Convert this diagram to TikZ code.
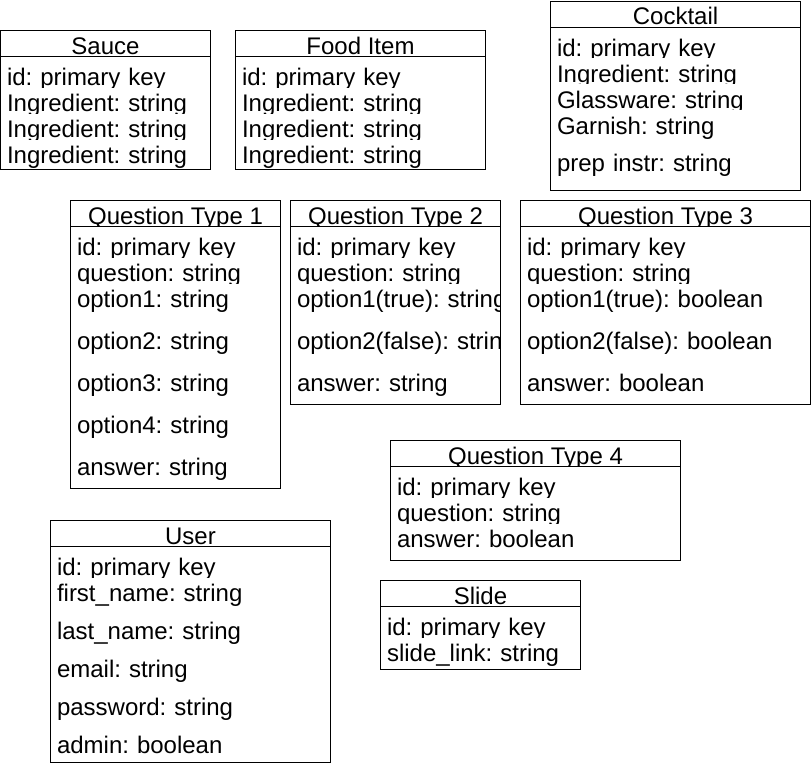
\documentclass[tikz,border=0pt]{standalone}
\usepackage{fontspec}
\setmainfont{Liberation Sans}
\usetikzlibrary{positioning}

\newcommand{\tablefont}{\fontsize{24pt}{26pt}\selectfont\frenchspacing}

\tikzset{
  tablehead/.style={rectangle, anchor=north west, draw=black, fill=white, line width=1pt, outer sep=0pt, inner sep=0pt, minimum height=26pt, text height=23.5pt, text depth=2.5pt, font=\tablefont},
  tablebody/.style={rectangle, anchor=north west, draw=black, fill=white, line width=1pt, outer sep=0pt, inner sep=0pt},
  field/.style={rectangle, anchor=north west, fill=white, outer sep=0pt, inner xsep=6pt, inner ysep=0pt, text height=24pt, text depth=0pt, text width=#1, align=left, font=\tablefont},
}

\begin{document}
\begin{tikzpicture}[x=1pt,y=1pt]
\useasboundingbox (0,0) rectangle (811,-766);

% Sauce
\node[tablehead, minimum width=210pt] (sauce) at (0.5,-30.5) {Sauce};
\node[tablebody, minimum width=210pt, minimum height=113pt] (sauce-b) at (sauce.south west) {};
\node[field=197pt] (sauce-1) at ([xshift=0.5pt,yshift=-5pt]sauce-b.north west) {id: primary key};
\node[field=197pt, below=2pt of sauce-1] (sauce-2) {Ingredient: string};
\node[field=197pt, below=2pt of sauce-2] (sauce-3) {Ingredient: string};
\node[field=197pt, below=2pt of sauce-3] (sauce-4) {Ingredient: string};

% Food Item
\node[tablehead, minimum width=250pt] (food) at (235.5,-30.5) {Food Item};
\node[tablebody, minimum width=250pt, minimum height=113pt] (food-b) at (food.south west) {};
\node[field=237pt] (food-1) at ([xshift=0.5pt,yshift=-5pt]food-b.north west) {id: primary key};
\node[field=237pt, below=2pt of food-1] (food-2) {Ingredient: string};
\node[field=237pt, below=2pt of food-2] (food-3) {Ingredient: string};
\node[field=237pt, below=2pt of food-3] (food-4) {Ingredient: string};

% Cocktail
\node[tablehead, minimum width=250pt] (cocktail) at (550.5,-1) {Cocktail};
\node[tablebody, minimum width=250pt, minimum height=163pt] (cocktail-b) at (cocktail.south west) {};
\node[field=237pt] (cocktail-1) at ([xshift=0.5pt,yshift=-5pt]cocktail-b.north west) {id: primary key};
\node[field=237pt, below=2pt of cocktail-1] (cocktail-2) {Ingredient: string};
\node[field=237pt, below=2pt of cocktail-2] (cocktail-3) {Glassware: string};
\node[field=237pt, below=2pt of cocktail-3] (cocktail-4) {Garnish: string};
\node[field=237pt, below=13pt of cocktail-4] (cocktail-5) {prep instr: string};

% Question Type 1
\node[tablehead, minimum width=210pt] (qone) at (70.5,-200.5) {Question Type 1};
\node[tablebody, minimum width=210pt, minimum height=261.5pt] (qone-b) at (qone.south west) {};
\node[field=197pt] (qone-1) at ([xshift=0.5pt,yshift=-5pt]qone-b.north west) {id: primary key};
\node[field=197pt, below=2pt of qone-1] (qone-2) {question: string};
\node[field=197pt, below=2pt of qone-2] (qone-3) {option1: string};
\node[field=197pt, below=18pt of qone-3] (qone-4) {option2: string};
\node[field=197pt, below=18pt of qone-4] (qone-5) {option3: string};
\node[field=197pt, below=18pt of qone-5] (qone-6) {option4: string};
\node[field=197pt, below=18pt of qone-6] (qone-7) {answer: string};

% Question Type 2
\node[tablehead, minimum width=210pt] (qtwo) at (290.5,-200.5) {Question Type 2};
\node[tablebody, minimum width=210pt, minimum height=177.5pt] (qtwo-b) at (qtwo.south west) {};
\begin{scope}
\clip (qtwo-b.north west) rectangle (qtwo-b.south east);
\node[field=197pt] (qtwo-1) at ([xshift=0.5pt,yshift=-5pt]qtwo-b.north west) {id: primary key};
\node[field=197pt, below=2pt of qtwo-1] (qtwo-2) {question: string};
\node[field=197pt, below=2pt of qtwo-2] (qtwo-3) {\mbox{option1(true): string}};
\node[field=197pt, below=18pt of qtwo-3] (qtwo-4) {\mbox{option2(false): string}};
\node[field=197pt, below=18pt of qtwo-4] (qtwo-5) {answer: string};
\end{scope}

% Question Type 3
\node[tablehead, minimum width=290pt] (qthree) at (520.5,-200.5) {Question Type 3};
\node[tablebody, minimum width=290pt, minimum height=177.5pt] (qthree-b) at (qthree.south west) {};
\node[field=277pt] (qthree-1) at ([xshift=0.5pt,yshift=-5pt]qthree-b.north west) {id: primary key};
\node[field=277pt, below=2pt of qthree-1] (qthree-2) {question: string};
\node[field=277pt, below=2pt of qthree-2] (qthree-3) {option1(true): boolean};
\node[field=277pt, below=18pt of qthree-3] (qthree-4) {option2(false): boolean};
\node[field=277pt, below=18pt of qthree-4] (qthree-5) {answer: boolean};

% Question Type 4
\node[tablehead, minimum width=290pt] (qfour) at (390.5,-440.5) {Question Type 4};
\node[tablebody, minimum width=290pt, minimum height=93.5pt] (qfour-b) at (qfour.south west) {};
\node[field=277pt] (qfour-1) at ([xshift=0.5pt,yshift=-5pt]qfour-b.north west) {id: primary key};
\node[field=277pt, below=2pt of qfour-1] (qfour-2) {question: string};
\node[field=277pt, below=2pt of qfour-2] (qfour-3) {answer: boolean};

% User
\node[tablehead, minimum width=280pt] (user) at (50.5,-520.5) {User};
\node[tablebody, minimum width=280pt, minimum height=215.5pt] (user-b) at (user.south west) {};
\node[field=267pt] (user-1) at ([xshift=0.5pt,yshift=-5pt]user-b.north west) {id: primary key};
\node[field=267pt, below=2pt of user-1] (user-2) {first\_name: string};
\node[field=267pt, below=14pt of user-2] (user-3) {last\_name: string};
\node[field=267pt, below=14pt of user-3] (user-4) {email: string};
\node[field=267pt, below=14pt of user-4] (user-5) {password: string};
\node[field=267pt, below=14pt of user-5] (user-6) {admin: boolean};

% Slide
\node[tablehead, minimum width=200pt] (slide) at (380.5,-580.5) {Slide};
\node[tablebody, minimum width=200pt, minimum height=63pt] (slide-b) at (slide.south west) {};
\node[field=187pt] (slide-1) at ([xshift=0.5pt,yshift=-5pt]slide-b.north west) {id: primary key};
\node[field=187pt, below=2pt of slide-1] (slide-2) {slide\_link: string};

\end{tikzpicture}
\end{document}
